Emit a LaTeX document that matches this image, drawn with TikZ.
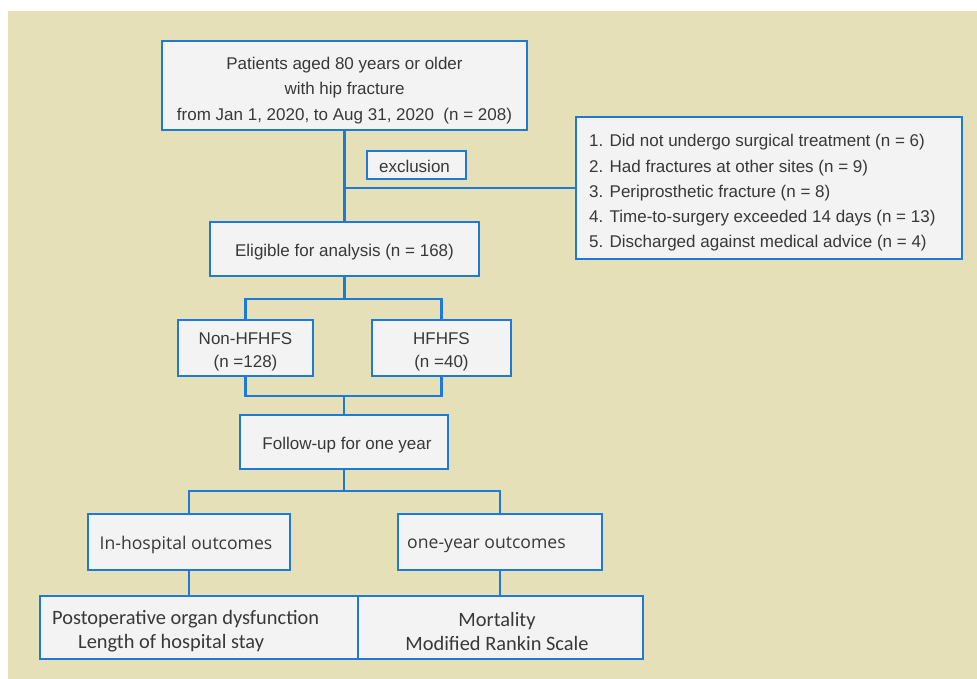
\documentclass[tikz,border=0pt]{standalone}
\usepackage{fontspec}
\setmainfont{Liberation Sans}
\newfontfamily\osfont{Open Sans}
\newfontfamily\cbfont{Carlito}
\definecolor{bg}{RGB}{229,224,184}
\definecolor{bl}{RGB}{30,122,216}
\definecolor{bx}{RGB}{243,243,243}
\definecolor{tx}{RGB}{56,56,56}
\tikzset{
  box/.style={draw=bl, line width=2.5pt, fill=bx, rectangle, inner sep=0pt},
  link/.style={draw=bl, line width=2.5pt},
  lbl/.style={inner sep=0pt, text=tx, align=center, font=\fontsize{17}{25}\selectfont},
  oslbl/.style={lbl, font=\osfont\fontsize{17.6}{20}\selectfont},
  cblbl/.style={lbl, font=\cbfont\fontsize{20.4}{24}\selectfont}
}
\begin{document}
\begin{tikzpicture}[x=1pt,y=-1pt]
\useasboundingbox (0,0) rectangle (977,679);
\fill[white] (0,0) rectangle (977,679);
\fill[bg] (8,11) rectangle (977,679);
% boxes
\node[box, minimum width=365pt, minimum height=89pt] (top) at (344.5,85.5) {};
\node[lbl, font=\fontsize{17}{25.5}\selectfont] (topt) at (344.5,90.5)
  {Patients aged 80 years or older\\with hip fracture\\from Jan 1, 2020, to Aug 31, 2020~~(n = 208)};
\node[box, minimum width=99pt, minimum height=28pt] (exlab) at (416.5,165) {};
\node[lbl] (exlabt) at (414.5,166) {exclusion};
\node[box, minimum width=386pt, minimum height=142pt] (excl) at (769,188) {};
\node[lbl, anchor=west, align=left, font=\fontsize{17}{25.2}\selectfont] (exclt) at (589,193)
  {1. Did not undergo surgical treatment (n = 6)\\2. Had fractures at other sites (n = 9)\\3. Periprosthetic fracture (n = 8)\\4. Time-to-surgery exceeded 14 days (n = 13)\\5. Discharged against medical advice (n = 4)};
\node[box, minimum width=269pt, minimum height=54pt] (elig) at (344.5,249) {};
\node[lbl] (eligt) at (344.5,252) {Eligible for analysis (n = 168)};
\node[box, minimum width=135pt, minimum height=56pt] (nonh) at (245.5,348) {};
\node[lbl, font=\fontsize{17}{22.5}\selectfont] (nonht) at (245.5,352) {Non-HFHFS\\(n =128)};
\node[box, minimum width=139pt, minimum height=56pt] (hf) at (441.5,348) {};
\node[lbl, font=\fontsize{17}{22.5}\selectfont] (hft) at (441.5,352) {HFHFS\\(n =40)};
\node[box, minimum width=208pt, minimum height=54pt] (fu) at (344,442) {};
\node[lbl] (fut) at (347,445) {Follow-up for one year};
\node[box, minimum width=202pt, minimum height=56pt] (inh) at (189,542) {};
\node[oslbl] (inht) at (186,545) {In-hospital outcomes};
\node[box, minimum width=204pt, minimum height=56pt] (oy) at (500,542) {};
\node[oslbl, anchor=west] (oyt) at (407,545) {one-year outcomes};
\node[box, minimum width=321pt, minimum height=63pt] (bleft) at (200.5,627.5) {};
\node[cblbl, anchor=west, align=left] (bleftt) at (52,631)
  {Postoperative organ dysfunction\\\hspace*{26pt}Length of hospital stay};
\node[box, minimum width=285pt, minimum height=63pt] (bright) at (500.5,627.5) {};
\node[cblbl] (brightt) at (497,631) {Mortality\\Modified Rankin Scale};
% connectors
\coordinate (br1) at (top.south |- excl.west);
\coordinate (s1) at (344.5,299);
\coordinate (j1) at (344,396);
\coordinate (s2) at (344,491);
\draw[link] (top.south) -- (elig.north);
\draw[link] (br1) -- (excl.west);
\draw[link] (elig.south) -- (s1);
\draw[link] (nonh.north) |- (s1) -| (hf.north);
\draw[link] (nonh.south) |- (j1) -| (hf.south);
\draw[link] (j1) -- (fu.north);
\draw[link] (fu.south) -- (s2);
\draw[link] (inh.north) |- (s2) -| (oy.north);
\draw[link] (inh.south) -- (inh.south |- bleft.north);
\draw[link] (oy.south) -- (oy.south |- bright.north);
\end{tikzpicture}
\end{document}
